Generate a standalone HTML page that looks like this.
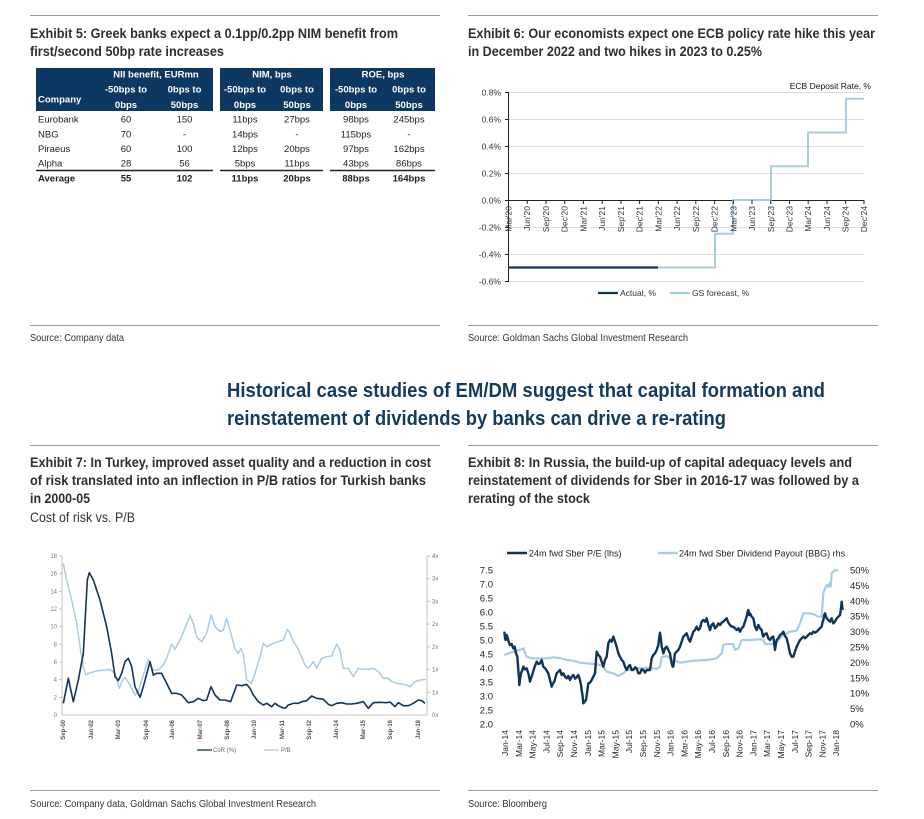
<!DOCTYPE html>
<html><head><meta charset="utf-8"><style>
html,body{margin:0;padding:0;background:#fff;}
svg{display:block;}
.t{font-family:"Liberation Sans Narrow","Liberation Sans",sans-serif;font-weight:bold;fill:#2e2e2e;}
.r{font-family:"Liberation Sans Narrow","Liberation Sans",sans-serif;fill:#333;}
.a{font-family:"Liberation Sans",sans-serif;fill:#333;}
.tb{font-family:"Liberation Sans",sans-serif;font-size:9.5px;fill:#1e1e1e;}
.th{font-family:"Liberation Sans",sans-serif;font-size:9.5px;font-weight:bold;fill:#fff;}
</style></head><body>
<svg width="924" height="819" viewBox="0 0 924 819" xmlns="http://www.w3.org/2000/svg">
<rect width="924" height="819" fill="#fff"/>
<!-- rules -->
<g stroke="#9a9a9a" stroke-width="1">
<line x1="30" y1="15.5" x2="440" y2="15.5"/><line x1="468" y1="15.5" x2="878" y2="15.5"/>
<line x1="30" y1="325.5" x2="440" y2="325.5"/><line x1="468" y1="325.5" x2="878" y2="325.5"/>
<line x1="30" y1="445.5" x2="440" y2="445.5"/><line x1="468" y1="445.5" x2="878" y2="445.5"/>
<line x1="30" y1="790.5" x2="440" y2="790.5"/><line x1="468" y1="790.5" x2="878" y2="790.5"/>
</g>
<!-- titles -->
<text class="t" x="30" y="38" font-size="14" textLength="368" lengthAdjust="spacingAndGlyphs">Exhibit 5: Greek banks expect a 0.1pp/0.2pp NIM benefit from</text>
<text class="t" x="30" y="56" font-size="14" textLength="194" lengthAdjust="spacingAndGlyphs">first/second 50bp rate increases</text>
<text class="t" x="468" y="38" font-size="14" textLength="407" lengthAdjust="spacingAndGlyphs">Exhibit 6: Our economists expect one ECB policy rate hike this year</text>
<text class="t" x="468" y="56" font-size="14" textLength="294" lengthAdjust="spacingAndGlyphs">in December 2022 and two hikes in 2023 to 0.25%</text>
<text class="r" x="30" y="341" font-size="10" textLength="94" lengthAdjust="spacingAndGlyphs">Source: Company data</text>
<text class="r" x="468" y="341" font-size="10" textLength="220" lengthAdjust="spacingAndGlyphs">Source: Goldman Sachs Global Investment Research</text>
<text class="t" x="227" y="397" font-size="20" fill="#143a5f" style="fill:#143a5f" textLength="598" lengthAdjust="spacingAndGlyphs">Historical case studies of EM/DM suggest that capital formation and</text>
<text class="t" x="227" y="425" font-size="20" style="fill:#143a5f" textLength="499" lengthAdjust="spacingAndGlyphs">reinstatement of dividends by banks can drive a re-rating</text>
<text class="t" x="30" y="467" font-size="14" textLength="401" lengthAdjust="spacingAndGlyphs">Exhibit 7: In Turkey, improved asset quality and a reduction in cost</text>
<text class="t" x="30" y="485" font-size="14" textLength="396" lengthAdjust="spacingAndGlyphs">of risk translated into an inflection in P/B ratios for Turkish banks</text>
<text class="t" x="30" y="503" font-size="14" textLength="60" lengthAdjust="spacingAndGlyphs">in 2000-05</text>
<text class="r" x="30" y="522" font-size="14" textLength="105" lengthAdjust="spacingAndGlyphs">Cost of risk vs. P/B</text>
<text class="t" x="468" y="467" font-size="14" textLength="384" lengthAdjust="spacingAndGlyphs">Exhibit 8: In Russia, the build-up of capital adequacy levels and</text>
<text class="t" x="468" y="485" font-size="14" textLength="391" lengthAdjust="spacingAndGlyphs">reinstatement of dividends for Sber in 2016-17 was followed by a</text>
<text class="t" x="468" y="503" font-size="14" textLength="122" lengthAdjust="spacingAndGlyphs">rerating of the stock</text>
<text class="r" x="30" y="807" font-size="10" textLength="286" lengthAdjust="spacingAndGlyphs">Source: Company data, Goldman Sachs Global Investment Research</text>
<text class="r" x="468" y="807" font-size="10" textLength="79" lengthAdjust="spacingAndGlyphs">Source: Bloomberg</text>

<!-- TABLE -->
<g>
<rect x="36" y="68" width="177" height="43" fill="#0d3862"/>
<rect x="220" y="68" width="103" height="43" fill="#0d3862"/>
<rect x="330" y="68" width="105" height="43" fill="#0d3862"/>
<text class="th" x="38" y="102.5">Company</text>
<g text-anchor="middle">
<text class="th" x="156" y="77.5">NII benefit, EURmn</text>
<text class="th" x="126" y="92.5">-50bps to</text><text class="th" x="126" y="108">0bps</text>
<text class="th" x="184.5" y="92.5">0bps to</text><text class="th" x="184.5" y="108">50bps</text>
<text class="th" x="272" y="77.5">NIM, bps</text>
<text class="th" x="245" y="92.5">-50bps to</text><text class="th" x="245" y="108">0bps</text>
<text class="th" x="297" y="92.5">0bps to</text><text class="th" x="297" y="108">50bps</text>
<text class="th" x="383" y="77.5">ROE, bps</text>
<text class="th" x="356" y="92.5">-50bps to</text><text class="th" x="356" y="108">0bps</text>
<text class="th" x="409" y="92.5">0bps to</text><text class="th" x="409" y="108">50bps</text>
</g>
<text class="tb" x="38" y="122.5">Eurobank</text>
<text class="tb" x="38" y="137.5">NBG</text>
<text class="tb" x="38" y="152">Piraeus</text>
<text class="tb" x="38" y="166.5">Alpha</text>
<text class="tb" x="38" y="181.5" font-weight="bold">Average</text>
<g text-anchor="middle">
<text class="tb" x="126" y="122.5">60</text><text class="tb" x="184.5" y="122.5">150</text><text class="tb" x="245" y="122.5">11bps</text><text class="tb" x="297" y="122.5">27bps</text><text class="tb" x="356" y="122.5">98bps</text><text class="tb" x="409" y="122.5">245bps</text>
<text class="tb" x="126" y="137.5">70</text><text class="tb" x="184.5" y="137.5">-</text><text class="tb" x="245" y="137.5">14bps</text><text class="tb" x="297" y="137.5">-</text><text class="tb" x="356" y="137.5">115bps</text><text class="tb" x="409" y="137.5">-</text>
<text class="tb" x="126" y="152">60</text><text class="tb" x="184.5" y="152">100</text><text class="tb" x="245" y="152">12bps</text><text class="tb" x="297" y="152">20bps</text><text class="tb" x="356" y="152">97bps</text><text class="tb" x="409" y="152">162bps</text>
<text class="tb" x="126" y="166.5">28</text><text class="tb" x="184.5" y="166.5">56</text><text class="tb" x="245" y="166.5">5bps</text><text class="tb" x="297" y="166.5">11bps</text><text class="tb" x="356" y="166.5">43bps</text><text class="tb" x="409" y="166.5">86bps</text>
<g font-weight="bold">
<text class="tb" x="126" y="181.5">55</text><text class="tb" x="184.5" y="181.5">102</text><text class="tb" x="245" y="181.5">11bps</text><text class="tb" x="297" y="181.5">20bps</text><text class="tb" x="356" y="181.5">88bps</text><text class="tb" x="409" y="181.5">164bps</text>
</g>
</g>
<g stroke="#222" stroke-width="1.5">
<line x1="36" y1="170.5" x2="213" y2="170.5"/><line x1="220" y1="170.5" x2="323" y2="170.5"/><line x1="330" y1="170.5" x2="435" y2="170.5"/>
</g>
</g>

<!-- EXHIBIT 6 -->
<g>
<g stroke="#dedede" stroke-width="1">
<line x1="508" y1="92.5" x2="864" y2="92.5"/><line x1="508" y1="119.5" x2="864" y2="119.5"/><line x1="508" y1="146.5" x2="864" y2="146.5"/><line x1="508" y1="173.5" x2="864" y2="173.5"/>
<line x1="508" y1="227.5" x2="864" y2="227.5"/><line x1="508" y1="254.5" x2="864" y2="254.5"/><line x1="508" y1="281.5" x2="864" y2="281.5"/>
</g>
<g stroke="#222" stroke-width="1">
<line x1="508.5" y1="92" x2="508.5" y2="282"/>
<line x1="508" y1="200.5" x2="864" y2="200.5"/>
<line x1="505" y1="92.5" x2="508" y2="92.5"/><line x1="505" y1="119.5" x2="508" y2="119.5"/><line x1="505" y1="146.5" x2="508" y2="146.5"/><line x1="505" y1="173.5" x2="508" y2="173.5"/><line x1="505" y1="200.5" x2="508" y2="200.5"/><line x1="505" y1="227.5" x2="508" y2="227.5"/><line x1="505" y1="254.5" x2="508" y2="254.5"/><line x1="505" y1="281.5" x2="508" y2="281.5"/>
</g>
<g class="a" font-size="8.5" text-anchor="end">
<text x="501" y="95.5">0.8%</text><text x="501" y="122.5">0.6%</text><text x="501" y="149.5">0.4%</text><text x="501" y="176.5">0.2%</text><text x="501" y="203.5">0.0%</text><text x="501" y="230.5">-0.2%</text><text x="501" y="257.5">-0.4%</text><text x="501" y="284.5">-0.6%</text>
</g>
<text class="a" x="871" y="89" font-size="8.5" text-anchor="end" style="fill:#111">ECB Deposit Rate, %</text>
<polyline points="658,267.5 715,267.5 715,233.75 733,233.75 733,200 771,200 771,166.25 808,166.25 808,132.5 846,132.5 846,98.75 864,98.75" fill="none" stroke="#a8cbe6" stroke-width="2"/>
<line x1="508" y1="267.5" x2="658" y2="267.5" stroke="#103458" stroke-width="2.2"/>
<g stroke="#222" stroke-width="1">
<line x1="508.5" y1="200" x2="508.5" y2="204"/><line x1="527.2" y1="200" x2="527.2" y2="204"/><line x1="546" y1="200" x2="546" y2="204"/><line x1="564.7" y1="200" x2="564.7" y2="204"/><line x1="583.4" y1="200" x2="583.4" y2="204"/><line x1="602.2" y1="200" x2="602.2" y2="204"/><line x1="620.9" y1="200" x2="620.9" y2="204"/><line x1="639.6" y1="200" x2="639.6" y2="204"/><line x1="658.4" y1="200" x2="658.4" y2="204"/><line x1="677.1" y1="200" x2="677.1" y2="204"/><line x1="695.8" y1="200" x2="695.8" y2="204"/><line x1="714.6" y1="200" x2="714.6" y2="204"/><line x1="733.3" y1="200" x2="733.3" y2="204"/><line x1="752" y1="200" x2="752" y2="204"/><line x1="770.8" y1="200" x2="770.8" y2="204"/><line x1="789.5" y1="200" x2="789.5" y2="204"/><line x1="808.2" y1="200" x2="808.2" y2="204"/><line x1="827" y1="200" x2="827" y2="204"/><line x1="845.7" y1="200" x2="845.7" y2="204"/><line x1="864" y1="200" x2="864" y2="204"/>
</g>
<g class="a" font-size="8.5" text-anchor="end">
<text transform="translate(511.5,206) rotate(-90)">Mar'20</text>
<text transform="translate(530.2,206) rotate(-90)">Jun'20</text>
<text transform="translate(549,206) rotate(-90)">Sep'20</text>
<text transform="translate(567.7,206) rotate(-90)">Dec'20</text>
<text transform="translate(586.4,206) rotate(-90)">Mar'21</text>
<text transform="translate(605.2,206) rotate(-90)">Jun'21</text>
<text transform="translate(623.9,206) rotate(-90)">Sep'21</text>
<text transform="translate(642.6,206) rotate(-90)">Dec'21</text>
<text transform="translate(661.4,206) rotate(-90)">Mar'22</text>
<text transform="translate(680.1,206) rotate(-90)">Jun'22</text>
<text transform="translate(698.8,206) rotate(-90)">Sep'22</text>
<text transform="translate(717.6,206) rotate(-90)">Dec'22</text>
<text transform="translate(736.3,206) rotate(-90)">Mar'23</text>
<text transform="translate(755,206) rotate(-90)">Jun'23</text>
<text transform="translate(773.8,206) rotate(-90)">Sep'23</text>
<text transform="translate(792.5,206) rotate(-90)">Dec'23</text>
<text transform="translate(811.2,206) rotate(-90)">Mar'24</text>
<text transform="translate(830,206) rotate(-90)">Jun'24</text>
<text transform="translate(848.7,206) rotate(-90)">Sep'24</text>
<text transform="translate(867,206) rotate(-90)">Dec'24</text>
</g>
<line x1="598" y1="293" x2="618" y2="293" stroke="#103458" stroke-width="2.2"/>
<text class="a" x="620" y="296" font-size="8.5">Actual, %</text>
<line x1="670" y1="293" x2="690" y2="293" stroke="#a8cbe6" stroke-width="2.2"/>
<text class="a" x="692" y="296" font-size="8.5">GS forecast, %</text>
</g>

<!-- EXHIBIT 7 -->
<g>
<g stroke="#b5b5b5" stroke-width="0.8" fill="none">
<line x1="62" y1="556" x2="62" y2="715"/>
<line x1="62" y1="715" x2="427" y2="715"/>
<line x1="427" y1="556" x2="427" y2="715"/>
<line x1="59" y1="556" x2="62" y2="556"/><line x1="59" y1="573.7" x2="62" y2="573.7"/><line x1="59" y1="591.3" x2="62" y2="591.3"/><line x1="59" y1="609" x2="62" y2="609"/><line x1="59" y1="626.7" x2="62" y2="626.7"/><line x1="59" y1="644.3" x2="62" y2="644.3"/><line x1="59" y1="662" x2="62" y2="662"/><line x1="59" y1="679.7" x2="62" y2="679.7"/><line x1="59" y1="697.3" x2="62" y2="697.3"/>
<line x1="427" y1="556" x2="430" y2="556"/><line x1="427" y1="578.7" x2="430" y2="578.7"/><line x1="427" y1="601.4" x2="430" y2="601.4"/><line x1="427" y1="624.1" x2="430" y2="624.1"/><line x1="427" y1="646.9" x2="430" y2="646.9"/><line x1="427" y1="669.6" x2="430" y2="669.6"/><line x1="427" y1="692.3" x2="430" y2="692.3"/>
</g>
<g class="a" font-size="6" text-anchor="end" style="fill:#777">
<text x="57" y="558">18</text><text x="57" y="575.7">16</text><text x="57" y="593.3">14</text><text x="57" y="611">12</text><text x="57" y="628.7">10</text><text x="57" y="646.3">8</text><text x="57" y="664">6</text><text x="57" y="681.7">4</text><text x="57" y="699.3">2</text><text x="57" y="717">0</text>
</g>
<g class="a" font-size="6" style="fill:#777">
<text x="432" y="558">4x</text><text x="432" y="580.7">3x</text><text x="432" y="603.4">3x</text><text x="432" y="626.1">2x</text><text x="432" y="648.9">2x</text><text x="432" y="671.6">1x</text><text x="432" y="694.3">1x</text><text x="432" y="717">0x</text>
</g>
<g class="a" font-size="6" font-weight="bold" text-anchor="end" style="fill:#555">
<text transform="translate(65,720) rotate(-90)">Sep-00</text>
<text transform="translate(93,720) rotate(-90)">Jan-02</text>
<text transform="translate(120,720) rotate(-90)">Mar-03</text>
<text transform="translate(148,720) rotate(-90)">Sep-04</text>
<text transform="translate(174,720) rotate(-90)">Jan-06</text>
<text transform="translate(202,720) rotate(-90)">Mar-07</text>
<text transform="translate(229,720) rotate(-90)">Sep-08</text>
<text transform="translate(256,720) rotate(-90)">Jan-10</text>
<text transform="translate(284,720) rotate(-90)">Mar-11</text>
<text transform="translate(311,720) rotate(-90)">Sep-12</text>
<text transform="translate(338,720) rotate(-90)">Jan-14</text>
<text transform="translate(365,720) rotate(-90)">Mar-15</text>
<text transform="translate(392,720) rotate(-90)">Sep-16</text>
<text transform="translate(420,720) rotate(-90)">Jan-18</text>
</g>
<g transform="translate(0,440) scale(0.333333)" fill="none">
<polyline vector-effect="non-scaling-stroke" stroke="#a9cbe6" stroke-width="1.5" stroke-linejoin="round" points="190,370 200,420 215,480 230,550 240,620 250,680 258,705 270,698 290,693 310,690 330,688 345,700 358,745 365,725 375,712 390,735 405,765 415,755 425,720 435,690 445,657 460,690 475,690 490,675 500,655 515,612 525,628 540,600 555,565 570,526 580,550 590,590 605,605 620,580 633,525 645,560 660,575 670,570 680,535 690,570 705,628 715,640 723,625 730,640 740,720 755,730 765,700 780,650 790,610 800,620 820,610 835,605 850,600 862,568 870,580 880,605 890,618 900,640 915,675 925,685 940,665 950,685 965,655 980,650 995,648 1010,612 1020,630 1030,685 1045,685 1060,710 1075,685 1090,688 1105,688 1120,685 1135,695 1150,715 1165,715 1175,725 1190,730 1205,732 1220,735 1230,740 1245,725 1260,720 1278,718"/>
<polyline vector-effect="non-scaling-stroke" stroke="#12345a" stroke-width="1.6" stroke-linejoin="round" points="190,790 205,715 220,785 235,720 250,640 262,420 268,398 280,420 300,480 320,560 335,640 345,710 355,722 365,700 375,665 385,655 395,680 405,740 420,772 430,740 450,665 460,705 470,700 485,700 500,730 515,760 530,760 545,765 565,788 580,785 595,775 610,782 620,780 633,740 645,765 660,780 675,780 692,785 710,735 725,737 740,733 750,745 760,765 775,785 790,795 800,790 815,800 825,790 835,797 845,802 855,805 865,795 880,790 895,790 905,785 920,782 935,768 950,775 970,778 985,793 995,797 1010,790 1025,788 1040,792 1055,792 1070,790 1090,785 1105,805 1120,788 1140,787 1160,788 1170,786 1185,800 1195,788 1210,797 1225,797 1240,790 1255,780 1265,782 1275,790"/>
</g>
<line x1="197" y1="750" x2="212" y2="750" stroke="#12345a" stroke-width="1.3"/>
<text class="a" x="213" y="752" font-size="6" style="fill:#666">CoR (%)</text>
<line x1="264" y1="750" x2="279" y2="750" stroke="#a9cbe6" stroke-width="1.3"/>
<text class="a" x="281" y="752" font-size="6" style="fill:#666">P/B</text>
</g>

<!-- EXHIBIT 8 -->
<g>
<line x1="507" y1="553" x2="527" y2="553" stroke="#103458" stroke-width="2.5"/>
<text class="a" x="529" y="556.5" font-size="9" style="fill:#222">24m fwd Sber P/E (lhs)</text>
<line x1="658" y1="553" x2="678" y2="553" stroke="#a8cbe6" stroke-width="2.5"/>
<text class="a" x="679" y="556.5" font-size="9" style="fill:#222">24m fwd Sber Dividend Payout (BBG) rhs</text>
<g class="a" font-size="9.5" text-anchor="end" style="fill:#222">
<text x="493" y="573.5">7.5</text><text x="493" y="587.5">7.0</text><text x="493" y="601.5">6.5</text><text x="493" y="615.5">6.0</text><text x="493" y="629.5">5.5</text><text x="493" y="643.5">5.0</text><text x="493" y="657.5">4.5</text><text x="493" y="671.5">4.0</text><text x="493" y="685.5">3.5</text><text x="493" y="699.5">3.0</text><text x="493" y="713.5">2.5</text><text x="493" y="727.5">2.0</text>
</g>
<g class="a" font-size="9.5" style="fill:#222">
<text x="850" y="573.5">50%</text><text x="850" y="588.9">45%</text><text x="850" y="604.3">40%</text><text x="850" y="619.7">35%</text><text x="850" y="635.1">30%</text><text x="850" y="650.5">25%</text><text x="850" y="665.9">20%</text><text x="850" y="681.3">15%</text><text x="850" y="696.7">10%</text><text x="850" y="712.1">5%</text><text x="850" y="727.5">0%</text>
</g>
<g class="a" font-size="8.5" text-anchor="end" style="fill:#222">
<text transform="translate(508,730) rotate(-90)">Jan-14</text>
<text transform="translate(521.8,730) rotate(-90)">Mar-14</text>
<text transform="translate(535.6,730) rotate(-90)">May-14</text>
<text transform="translate(549.4,730) rotate(-90)">Jul-14</text>
<text transform="translate(563.2,730) rotate(-90)">Sep-14</text>
<text transform="translate(577,730) rotate(-90)">Nov-14</text>
<text transform="translate(590.8,730) rotate(-90)">Jan-15</text>
<text transform="translate(604.6,730) rotate(-90)">Mar-15</text>
<text transform="translate(618.4,730) rotate(-90)">May-15</text>
<text transform="translate(632.2,730) rotate(-90)">Jul-15</text>
<text transform="translate(646,730) rotate(-90)">Sep-15</text>
<text transform="translate(659.8,730) rotate(-90)">Nov-15</text>
<text transform="translate(673.6,730) rotate(-90)">Jan-16</text>
<text transform="translate(687.4,730) rotate(-90)">Mar-16</text>
<text transform="translate(701.2,730) rotate(-90)">May-16</text>
<text transform="translate(715,730) rotate(-90)">Jul-16</text>
<text transform="translate(728.8,730) rotate(-90)">Sep-16</text>
<text transform="translate(742.6,730) rotate(-90)">Nov-16</text>
<text transform="translate(756.4,730) rotate(-90)">Jan-17</text>
<text transform="translate(770.2,730) rotate(-90)">Mar-17</text>
<text transform="translate(784,730) rotate(-90)">May-17</text>
<text transform="translate(797.8,730) rotate(-90)">Jul-17</text>
<text transform="translate(811.6,730) rotate(-90)">Sep-17</text>
<text transform="translate(825.4,730) rotate(-90)">Nov-17</text>
<text transform="translate(839.2,730) rotate(-90)">Jan-18</text>
</g>
<g transform="translate(460,440) scale(0.333333)" fill="none">
<polyline vector-effect="non-scaling-stroke" stroke="#a8cbe6" stroke-width="2.2" stroke-linejoin="round" points="133,645 145,640 160,635 180,630 190,625 200,650 215,655 240,655 260,655 280,652 300,654 320,660 340,662 360,668 380,670 400,672 420,675 430,680 440,695 460,700 475,708 490,700 500,690 520,688 540,685 560,683 580,685 590,687 600,680 605,652 620,648 640,660 660,668 700,662 740,660 770,655 785,640 790,615 800,612 820,612 825,630 835,625 845,600 870,600 900,598 910,600 915,612 930,612 945,612 955,600 970,585 990,575 1010,572 1020,550 1030,520 1045,520 1060,522 1075,530 1085,530 1090,460 1095,445 1100,435 1105,440 1110,428 1112,440 1115,400 1125,390 1135,392"/>
<polyline vector-effect="non-scaling-stroke" stroke="#103458" stroke-width="2.4" stroke-linejoin="round" points="133,575 135,595 137,600 140,585 142,590 146,605 150,615 155,612 160,625 164,620 168,640 172,650 175,690 177,715 178,735 181,712 183,700 187,690 190,680 195,688 200,685 205,700 210,725 214,712 218,700 224,680 230,665 235,672 240,670 245,660 250,680 258,688 265,700 270,720 275,740 279,730 283,725 287,710 290,700 295,695 300,690 305,705 310,700 315,710 320,715 325,708 330,720 335,710 340,705 345,716 350,712 355,705 360,720 363,735 365,750 368,770 370,790 374,785 378,780 381,760 385,730 390,728 395,720 400,710 405,700 408,660 410,635 415,645 420,650 425,665 430,680 435,660 440,650 445,610 450,600 455,605 460,590 465,605 470,620 475,640 480,650 485,660 490,665 495,680 500,690 505,680 510,675 515,690 520,690 525,682 530,685 535,700 540,700 545,688 550,690 555,698 560,690 565,690 570,690 573,670 575,655 580,645 585,640 590,630 595,615 598,590 600,578 603,600 605,620 608,630 610,640 615,625 620,620 625,630 630,640 633,660 635,670 638,680 640,680 643,655 645,640 650,635 655,630 660,620 665,605 670,590 675,585 680,580 685,595 690,605 695,590 700,575 705,570 710,560 715,570 720,565 725,545 730,540 735,545 740,535 745,555 750,570 755,555 760,550 765,565 770,560 775,550 780,555 785,548 790,545 795,540 800,535 805,548 810,555 815,560 820,560 825,565 830,570 835,565 840,575 845,565 850,560 855,545 860,530 863,515 865,510 868,525 870,520 875,530 880,535 883,550 885,560 888,565 890,570 893,560 895,555 900,565 905,570 908,585 910,590 915,582 920,580 925,595 930,600 935,592 940,590 943,615 945,630 948,610 950,600 955,595 960,585 965,582 970,575 975,588 980,595 985,615 990,640 995,650 1000,650 1005,635 1010,620 1015,610 1020,600 1025,595 1030,590 1035,595 1040,590 1045,585 1050,580 1055,582 1060,575 1065,578 1070,575 1075,570 1080,565 1085,560 1088,545 1090,540 1093,525 1095,520 1098,530 1100,535 1105,540 1110,545 1115,535 1120,550 1125,545 1130,535 1135,530 1140,525 1143,505 1145,485 1148,510"/>
</g>
</g>
</svg>
</body></html>
